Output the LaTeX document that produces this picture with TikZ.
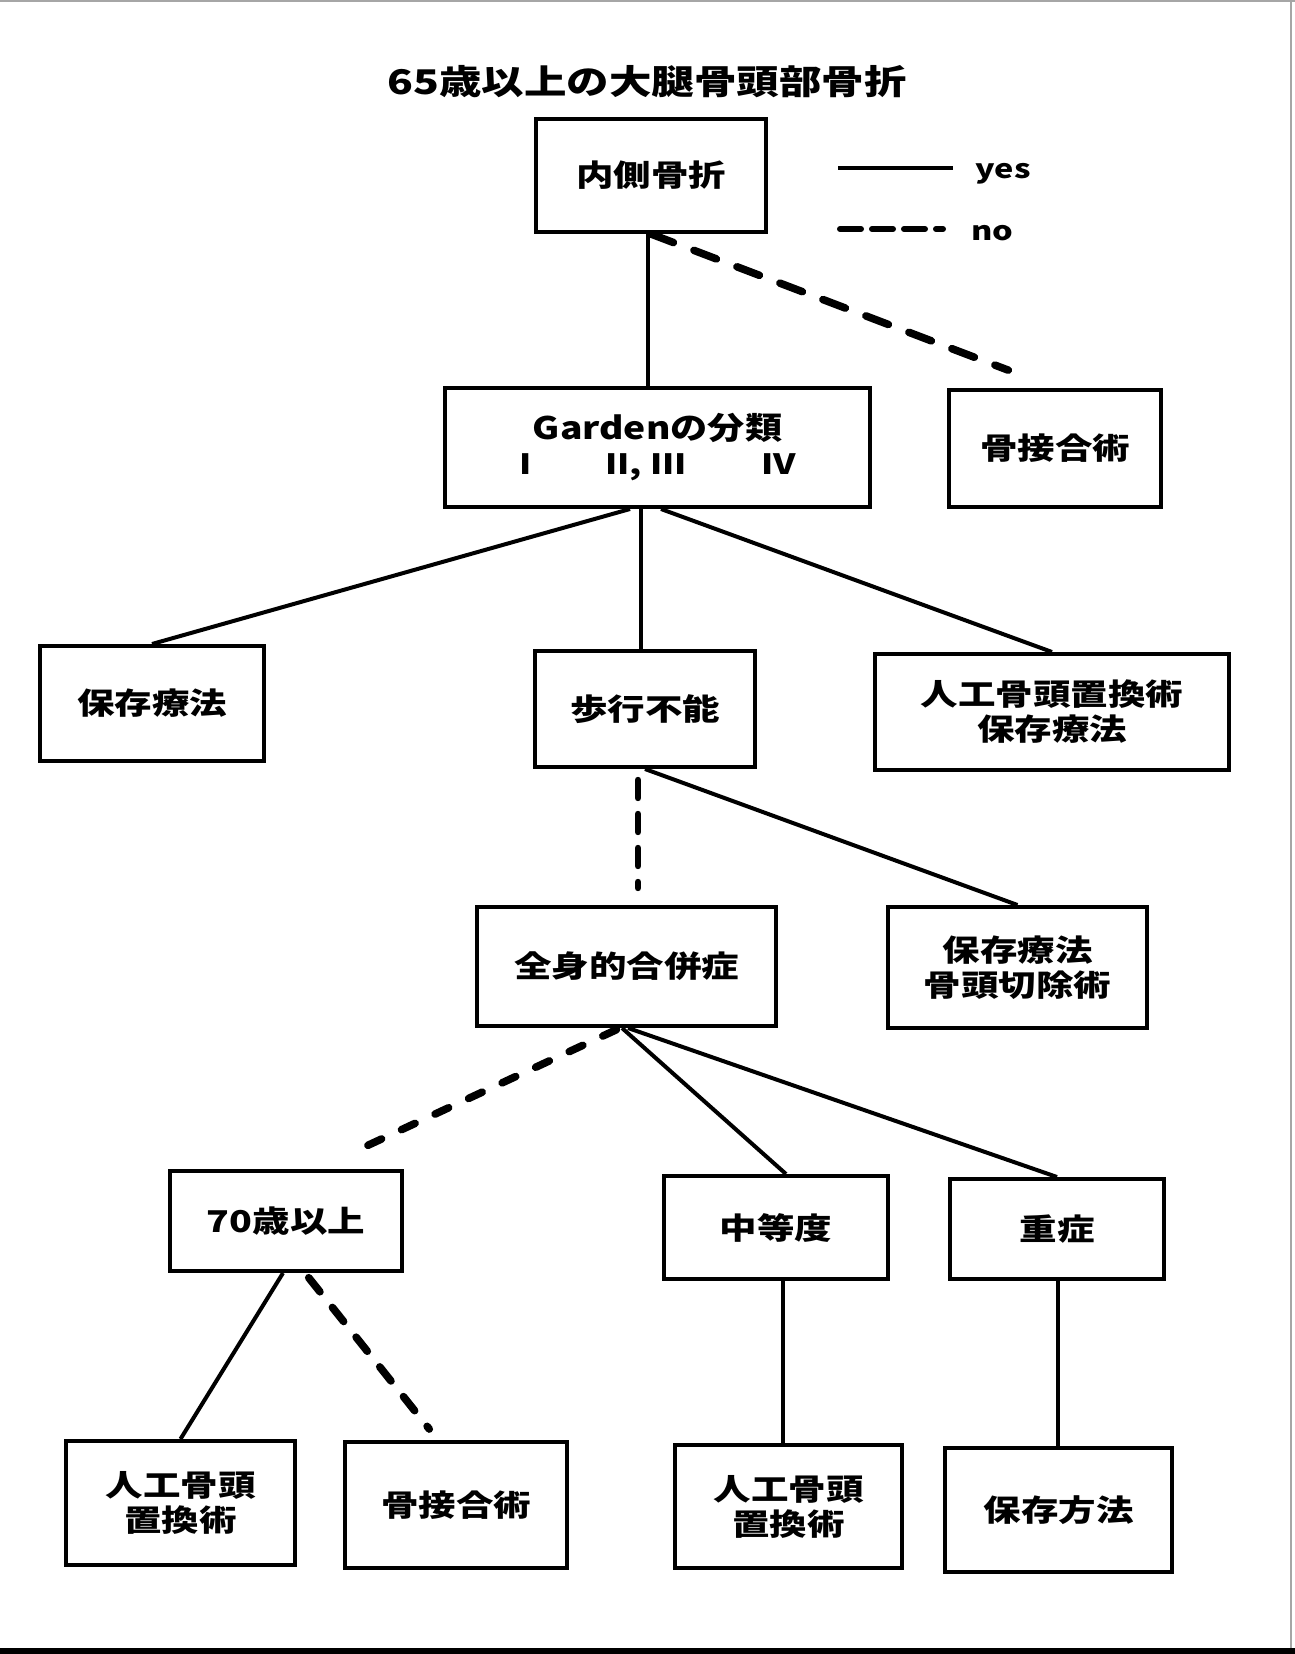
\documentclass[tikz,border=0pt]{standalone}
\usepackage{fontspec}
\setmainfont{Noto Sans CJK JP}[FakeStretch=1.25]
\usetikzlibrary{calc}
\begin{document}
\begin{tikzpicture}[x=0.5pt,y=-0.5pt,
  sz/.style 2 args={minimum width=#1*0.5pt, minimum height=#2*0.5pt},
  box/.style={draw, line width=2pt, inner sep=0pt, align=center,
    font=\bfseries\fontsize{15pt}{17.5pt}\selectfont},
  yesline/.style={line width=2pt},
  noline/.style={line width=3.8pt, line cap=round},
  titletext/.style={font=\bfseries\fontsize{17pt}{20pt}\selectfont},
  legendtext/.style={font=\bfseries\fontsize{13pt}{15pt}\selectfont, inner sep=0pt}
]
\useasboundingbox (0,0) rectangle (1295,1654);
\fill[white] (0,0) rectangle (1295,1654);
\fill[black] (0,1648) rectangle (1295,1654);
\draw[black!35, line width=0.6pt] (0,1) -- (1295,1) (1291,0) -- (1291,1648);

% title
\node[titletext] (title) at (647,82) {65歳以上の大腿骨頭部骨折};

% legend
\coordinate (ys) at (838,168);
\coordinate (ye) at (953,168);
\coordinate (ns) at (840,229);
\coordinate (ne) at (943,229);
\draw[yesline] (ys) -- (ye);
\draw[noline, line width=3pt, dash pattern=on 10.5pt off 5.5pt] (ns) -- (ne);
\node[legendtext, anchor=base west] (yes) at (975,178) {yes};
\node[legendtext, anchor=base west] (no) at (971,240) {no};

% boxes
\node[box, sz={230}{113}] (med) at (651,175.5) {内側骨折};
\node[box, sz={425}{119}] (garden) at (657.5,447.5)
  {\fontsize{15.5pt}{18pt}\selectfont\addfontfeature{FakeStretch=1.2}Gardenの分類\\[0pt]
   {\fontsize{14pt}{16pt}\selectfont I\hspace{37pt}II, III\hspace{37pt}IV}};
\node[box, sz={212}{117}] (kotsu1) at (1055,448.5) {骨接合術};
\node[box, sz={224}{115}] (hozon1) at (152,703.5) {保存療法};
\node[box, sz={220}{116}] (hoko) at (645,709) {歩行不能};
\node[box, sz={354}{116}] (jinko1) at (1052,712) {人工骨頭置換術\\保存療法};
\node[box, sz={299}{119}] (zenshin) at (626.5,966.5) {全身的合併症};
\node[box, sz={259}{121}] (hozon2) at (1017.5,967.5) {保存療法\\骨頭切除術};
\node[box, sz={232}{100}] (age70) at (286,1221) {70歳以上};
\node[box, sz={224}{103}] (chuto) at (776,1227.5) {中等度};
\node[box, sz={214}{100}] (jusho) at (1057,1229) {重症};
\node[box, sz={229}{124}] (b1) at (180.5,1503) {人工骨頭\\置換術};
\node[box, sz={222}{126}] (b2) at (456,1505) {骨接合術};
\node[box, sz={227}{123}] (b3) at (788.5,1506.5) {人工骨頭\\置換術};
\node[box, sz={227}{124}] (b4) at (1058.5,1510) {保存方法};

% connectors
\draw[yesline] (648,0 |- med.south) -- (648,0 |- garden.north);
\draw[noline, dash pattern=on 12pt off 11pt, shorten >=25pt] (med.south) -- (kotsu1.north);

\draw[yesline] (630,0 |- garden.south) -- (hozon1.north);
\draw[yesline] (641,0 |- garden.south) -- (641,0 |- hoko.north);
\draw[yesline] (661,0 |- garden.south) -- (jinko1.north);

\draw[noline, line width=3.2pt, dash pattern=on 9pt off 8pt, shorten <=5.5pt, shorten >=8.5pt]
  (638,0 |- hoko.south) -- (638,0 |- zenshin.north);
\draw[yesline] (hoko.south) -- (hozon2.north);

\draw[noline, dash pattern=on 7.5pt off 11pt, shorten <=2pt, shorten >=18pt]
  (620,0 |- zenshin.south) -- (317,0 |- age70.north);
\draw[yesline] (622,0 |- zenshin.south) -- (786,0 |- chuto.north);
\draw[yesline] (628,0 |- zenshin.south) -- (jusho.north);

\draw[yesline] (283,0 |- age70.south) -- (b1.north);
\draw[noline, dash pattern=on 9pt off 10pt, shorten <=3pt, shorten >=7pt]
  (305,0 |- age70.south) -- (438,0 |- b2.north);

\draw[yesline] (783,0 |- chuto.south) -- (783,0 |- b3.north);
\draw[yesline] (1058,0 |- jusho.south) -- (1058,0 |- b4.north);
\end{tikzpicture}
\end{document}
